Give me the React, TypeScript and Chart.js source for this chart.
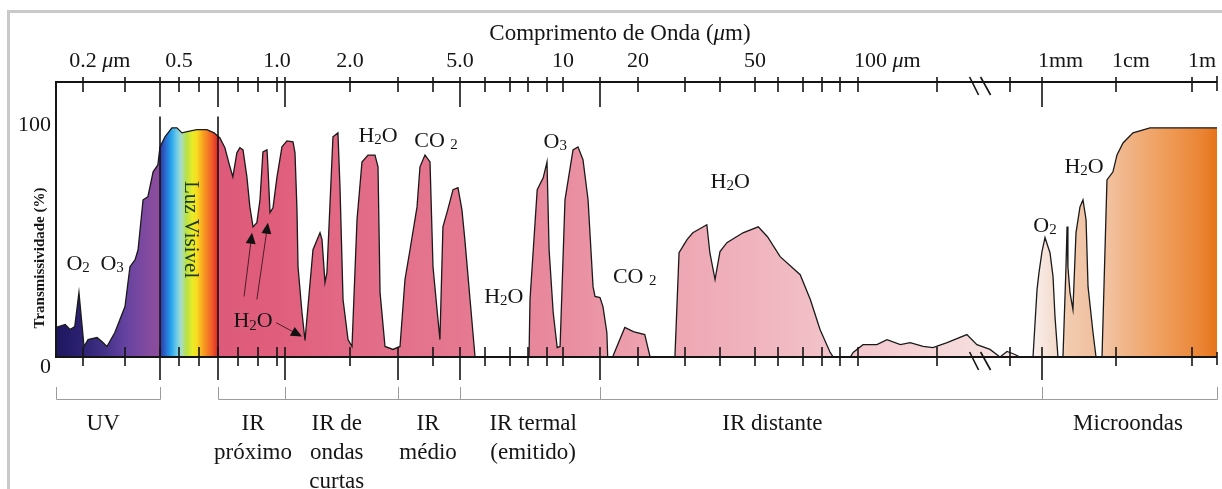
import React, { useEffect, useRef } from 'react';
import { Chart, registerables, LinearScale } from 'chart.js';

// ---- The figure's own (irregular, hand-drawn) wavelength ruler: wavelength (µm) -> ruler units
const RULER_UM = [0.155, 0.2, 0.3, 0.4, 0.5, 0.6, 0.7, 0.8, 0.9, 1.0, 1.1, 2, 3, 4, 5, 6, 7, 8, 9, 10, 15, 20, 30, 40, 50, 60, 70, 80, 90, 100, 200, 500, 1000, 1e4, 1e6, 4.54e6];
const RULER_POS = [0, 27, 69, 104, 123, 143, 162, 182, 202, 221, 229, 294, 342, 377, 404, 429, 454, 472, 491, 507, 544, 582, 629, 664, 699, 722, 747, 766, 784, 802, 881, 954, 986, 1060, 1136, 1161];

// ---- Atmospheric transmission curve
const WAVELENGTH_UM = [
  0.155, 0.169, 0.177, 0.185, 0.1925, 0.202, 0.21, 0.229, 0.24, 0.252, 0.272, 0.3, 0.3125, 0.326, 0.334, 0.348, 0.362, 0.378, 0.393,
  0.4, 0.424, 0.46, 0.488, 0.514, 0.538, 0.589, 0.64, 0.678,
  0.709, 0.733, 0.758, 0.773, 0.794, 0.809, 0.824, 0.843, 0.858, 0.874, 0.894, 0.91, 0.925, 0.946, 0.951, 0.962, 0.978, 1.0,
  1.061, 1.12, 1.184, 1.206, 1.228, 1.24, 1.286, 1.322, 1.423, 1.518, 1.546, 1.589, 1.618, 1.694, 1.71, 1.79, 1.824, 1.876, 1.964,
  2.034, 2.122, 2.213, 2.328, 2.47, 2.534, 2.578, 2.688, 2.876, 3.05, 3.177, 3.311, 3.508, 3.594, 3.745, 3.903, 4.0, 4.135, 4.236,
  4.342, 4.52, 4.72, 4.917, 5.07, 5.18, 5.38, 5.58,
  8.05, 8.1, 8.47, 8.79, 9.0, 9.125, 9.375, 9.625, 9.81, 10.22, 11.16, 11.78, 12.45, 13.16, 13.9, 14.2, 15.0, 15.34, 15.8, 15.9,
  16.5, 18.1, 19.3, 21.2, 22.2, 27.5, 28.5, 30.5, 32.0, 35.9, 36.8, 38.4, 40, 41.8, 46.3, 51.3, 55.2, 60.8, 68.8, 73.7, 78.9, 84.4, 86.1,
  95.6, 97.2, 104.5, 118, 129, 145, 158, 177, 193, 227, 291, 330, 389, 441, 482, 557, 621,
  823, 898, 937, 1000, 1098, 1205, 1283, 1409, 1498, 1644, 1920, 2110, 2180, 2240, 2390, 2620, 2880, 3260, 3580, 3940, 4190, 4890, 5370,
  6470, 7550, 9100, 10620, 15300, 28000, 78400, 4540000,
];
const TRANSMISSION_PCT = [
  12.9, 14.2, 12.0, 13.3, 28.1, 4.6, 7.6, 8.5, 6.8, 4.6, 10.7, 22.0, 39.4, 42.5, 46.8, 68.6, 69.9, 80.8, 83.8,
  91.7, 96.1, 100, 100, 97.8, 98.3, 99.2, 99.2, 97.8,
  95.6, 91.3, 83.0, 78.6, 89.1, 91.3, 90.4, 78.6, 65.5, 56.8, 58.6, 68.6, 89.5, 90.4, 83.0, 63.0, 65.1, 78.6,
  91.7, 94.3, 93.9, 89.1, 64.3, 39.4, 19.4, 7.2, 46.8, 54.2, 51.2, 32.5, 36.8, 86.1, 96.1, 97.8, 74.2, 25.1, 7.6,
  4.6, 59.9, 85.1, 88.1, 88.1, 83.0, 28.1, 4.6, 3.3, 4.6, 33.8, 46.8, 65.5, 83.0, 88.1, 85.1, 39.4, 20.7, 7.6,
  56.8, 64.3, 73.0, 73.9, 64.3, 51.2, 25.1, 0,
  0, 25.1, 73.0, 78.2, 85.1, 46.8, 19.4, 4.1, 4.6, 68.6, 90.4, 91.7, 86.1, 68.6, 30.7, 26.4, 25.9, 22.0, 10.7, 0,
  0, 12.9, 11.1, 9.8, 0, 0, 45.5, 51.2, 54.2, 57.7, 45.5, 33.8, 46.0, 49.9, 54.2, 56.8, 52.5, 43.8, 35.9, 25.1, 12.0, 2.0, 0,
  0, 2.0, 5.4, 5.4, 7.6, 5.4, 6.3, 4.6, 4.1, 6.3, 9.8, 5.4, 3.3, 0, 2.4, 1.1, 0,
  0, 29.4, 36.8, 46.0, 52.1, 48.1, 45.5, 35.1, 17.6, 0, 0, 39.4, 56.9, 39.4, 28.1, 20.7, 54.2, 65.5, 68.6, 59.9, 30.7, 10.7, 0,
  0, 77.3, 80.8, 88.2, 93.4, 97.8, 100, 100,
];

// ---- Axis ticks and labels
const TICKS_UM = [0.2, 0.3, 0.4, 0.5, 0.6, 0.7, 0.8, 0.9, 1.0, 1.1, 2, 3, 4, 5, 6, 7, 8, 9, 10, 15, 20, 30, 40, 50, 60, 70, 80, 90, 100, 200, 500, 1000, 1e4, 1e6];
const LONG_TICKS_TOP_UM = [0.4, 0.7, 1.1, 5, 15, 1000];
const LONG_TICKS_BOTTOM_UM = [0.4, 0.7, 1.1, 3, 5, 15, 1000];
const TICK_LABEL_UM = [0.2, 0.5, 1.0, 2, 5, 10, 20, 50, 100, 1000, 1e4, 1e6];
const TICK_LABEL_TEXT = ['0.2 μm', '0.5', '1.0', '2.0', '5.0', '10', '20', '50', '100 μm', '1mm', '1cm', '1m'];
const TICK_LABEL_ANCHOR = ['number', 'center', 'center', 'center', 'center', 'center', 'center', 'center', 'left', 'left', 'left', 'left'];
const Y_LABEL_PCT = [100, 0];
const Y_LABEL_TEXT = ['100', '0'];
const AXIS_BREAK_UM = 350;
const VISIBLE_BOUNDS_UM = [0.4, 0.7];

// ---- Spectral regions (bottom)
const BAND_NAMES = ['UV', 'IR\npróximo', 'IR de\nondas\ncurtas', 'IR\nmédio', 'IR termal\n(emitido)', 'IR distante', 'Microondas'];
const BAND_LABEL_UM = [0.243, 0.874, 1.77, 3.84, 8.26, 57.4, 20700];
const BRACKET_GROUPS_UM = [[0.155, 0.4], [0.7, 1.1, 3, 5, 15, 1000, 4.54e6]];

// ---- Absorber annotations
const GAS_TEXT = ['O₂', 'O₃', 'H₂O', 'H₂O', 'CO ₂', 'H₂O', 'O₃', 'CO ₂', 'H₂O', 'O₂', 'H₂O'];
const GAS_UM = [0.191, 0.265, 0.874, 2.534, 4.1, 6.74, 9.5, 19.5, 42.7, 1098, 3700];
const GAS_PCT = [38.1, 38.1, 12.9, 93.9, 91.7, 23.7, 91.3, 32.5, 73.9, 54.7, 80.4];
const ARROW_FROM_UM = [0.829, 0.894, 0.995];
const ARROW_FROM_PCT = [26.4, 25.1, 15.0];
const ARROW_TO_UM = [0.869, 0.951, 1.286];
const ARROW_TO_PCT = [54.2, 58.6, 8.9];
const VISIBLE_LABEL = 'Luz Visivel';
const VISIBLE_LABEL_UM = 0.553;
const VISIBLE_LABEL_PCT = 55.6;

// ---- Fill colour ramp along wavelength
const FILL_STOP_UM = [0.155, 0.2, 0.25, 0.3, 0.36, 0.398, 0.401, 0.414, 0.434, 0.455, 0.488, 0.51, 0.535, 0.565, 0.589, 0.62, 0.665, 0.697, 0.701, 0.705, 1.0, 2.0, 5, 10, 20, 50, 100, 300, 900, 1650, 2200, 5000, 7000, 28000, 144000, 1.8e6, 4.54e6];
const FILL_STOP_COLOR = ['#1e1660', '#2c2272', '#45338a', '#6442a0', '#824ba0', '#8e4c9c', '#2c3aa0', '#3050b8', '#2878d8', '#24a4ec', '#70cce8', '#a8dcc8', '#b8e048', '#e8ec28', '#f8dc20', '#f8a020', '#f06028', '#e02828', '#e02a3a', '#de5a7a', '#e05e7c', '#e26a86', '#e57890', '#e98ca0', '#eda0ae', '#f0b4be', '#f4c8ce', '#f6dcdc', '#f8ece8', '#f4d8c8', '#f2ccb0', '#f0c0a0', '#f2c4a4', '#f0b080', '#f0a060', '#ea8434', '#e67418'];

const FONT = '"Liberation Serif", "Times New Roman", serif';

function rulerFrac(v: number): number {
  const n = RULER_UM.length;
  const total = RULER_POS[n - 1];
  if (!(v > 0)) return -0.05;
  let i = 0;
  if (v >= RULER_UM[n - 1]) i = n - 2;
  else if (v > RULER_UM[0]) { while (i < n - 2 && v > RULER_UM[i + 1]) i++; }
  const f = Math.log(v / RULER_UM[i]) / Math.log(RULER_UM[i + 1] / RULER_UM[i]);
  return (RULER_POS[i] + f * (RULER_POS[i + 1] - RULER_POS[i])) / total;
}
function rulerValue(frac: number): number {
  const n = RULER_UM.length;
  const p = frac * RULER_POS[n - 1];
  let i = 0;
  while (i < n - 2 && p > RULER_POS[i + 1]) i++;
  const f = (p - RULER_POS[i]) / (RULER_POS[i + 1] - RULER_POS[i]);
  return RULER_UM[i] * Math.pow(RULER_UM[i + 1] / RULER_UM[i], f);
}

class RulerScale extends LinearScale {
  static id = 'ruler';
  static defaults = (LinearScale as any).defaults;
  getPixelForValue(value: number) { return this.left + rulerFrac(value) * this.width; }
  getValueForPixel(pixel: number) { return rulerValue((pixel - this.left) / this.width); }
}
Chart.register(...registerables, RulerScale as any);

function drawRich(ctx: CanvasRenderingContext2D, text: string, x: number, y: number, size: number, align: string, color = '#151515') {
  const segs: { t: string; font: string; dy: number }[] = [];
  for (const ch of text) {
    let font = `${size}px ${FONT}`;
    let dy = 0;
    let t = ch;
    if (ch === '₂' || ch === '₃') { t = ch === '₂' ? '2' : '3'; font = `${Math.round(size * 0.66)}px ${FONT}`; dy = size * 0.1; }
    else if (ch === 'μ') { font = `italic ${size}px ${FONT}`; }
    const last = segs[segs.length - 1];
    if (last && last.font === font && last.dy === dy) last.t += t; else segs.push({ t, font, dy });
  }
  let w = 0;
  const ws = segs.map((s) => { ctx.font = s.font; const m = ctx.measureText(s.t).width; w += m; return m; });
  let cx = align === 'left' ? x : align === 'right' ? x - w : x - w / 2;
  ctx.fillStyle = color;
  ctx.textAlign = 'left';
  ctx.textBaseline = 'alphabetic';
  segs.forEach((s, i) => { ctx.font = s.font; ctx.fillText(s.t, cx, y + s.dy); cx += ws[i]; });
  return w;
}

function seg(ctx: CanvasRenderingContext2D, x1: number, y1: number, x2: number, y2: number) {
  ctx.beginPath(); ctx.moveTo(x1, y1); ctx.lineTo(x2, y2); ctx.stroke();
}

const decorPlugin = {
  id: 'decor',
  beforeDraw(chart: any) {
    const ctx = chart.ctx as CanvasRenderingContext2D;
    ctx.save();
    ctx.fillStyle = '#ffffff';
    ctx.fillRect(0, 0, chart.width, chart.height);
    ctx.fillStyle = '#c9c9c9';
    ctx.fillRect(7, 10, chart.width - 7, 3);
    ctx.fillRect(7, 10, 3, chart.height - 10);
    ctx.restore();
  },
  afterDatasetsDraw(chart: any) {
    const ctx = chart.ctx as CanvasRenderingContext2D;
    const a = chart.chartArea;
    const xs = chart.scales.x;
    const ys = chart.scales.y;
    const top = a.top;
    const bot = a.bottom;
    ctx.save();
    ctx.strokeStyle = '#141414';
    ctx.lineCap = 'butt';

    // visible band boundaries
    ctx.lineWidth = 1.6;
    VISIBLE_BOUNDS_UM.forEach((v) => { const px = xs.getPixelForValue(v); seg(ctx, px, ys.getPixelForValue(105), px, bot); });

    // axes
    ctx.lineWidth = 2;
    seg(ctx, a.left, top, a.right, top);
    seg(ctx, a.left, bot, a.right, bot);
    seg(ctx, a.left, top - 1, a.left, bot + 1);

    // ticks
    ctx.lineWidth = 1.6;
    xs.ticks.forEach((t: any) => {
      const px = xs.getPixelForValue(t.value);
      seg(ctx, px, top - 5, px, top + (LONG_TICKS_TOP_UM.includes(t.value) ? 25 : 10));
      seg(ctx, px, bot - 10, px, bot + (LONG_TICKS_BOTTOM_UM.includes(t.value) ? 23 : 9));
    });
    seg(ctx, a.right, top - 6, a.right, top + 9);
    seg(ctx, a.right, bot - 5, a.right, bot + 8);

    // axis breaks
    const bx = xs.getPixelForValue(AXIS_BREAK_UM);
    [top, bot].forEach((yy) => {
      seg(ctx, bx - 12, yy - 5, bx - 3, yy + 13);
      seg(ctx, bx - 1, yy - 5, bx + 9, yy + 13);
    });

    // top tick labels and title
    TICK_LABEL_UM.forEach((v, i) => {
      const px = xs.getPixelForValue(v);
      const txt = TICK_LABEL_TEXT[i];
      const anchor = TICK_LABEL_ANCHOR[i];
      if (anchor === 'number') {
        const num = txt.split(' ')[0];
        ctx.font = `22px ${FONT}`;
        const nw = ctx.measureText(num).width;
        drawRich(ctx, txt, px - nw / 2, top - 15, 22, 'left');
      } else if (anchor === 'left') {
        drawRich(ctx, txt, px - 4, top - 15, 22, 'left');
      } else {
        drawRich(ctx, txt, px, top - 15, 22, 'center');
      }
    });
    drawRich(ctx, 'Comprimento de Onda (μm)', 620, top - 42, 23, 'center');

    // y labels
    Y_LABEL_PCT.forEach((p, i) => {
      const py = ys.getPixelForValue(p);
      drawRich(ctx, Y_LABEL_TEXT[i], a.left - 5, py + (p === 0 ? 16 : 3), 22, 'right');
    });
    ctx.save();
    ctx.translate(a.left - 16, ys.getPixelForValue(43.2));
    ctx.rotate(-Math.PI / 2);
    ctx.font = `bold 15px ${FONT}`;
    ctx.fillStyle = '#151515';
    ctx.textAlign = 'center';
    ctx.textBaseline = 'middle';
    ctx.fillText('Transmissividade (%)', 0, 0);
    ctx.restore();

    // visible light label
    ctx.save();
    ctx.translate(xs.getPixelForValue(VISIBLE_LABEL_UM), ys.getPixelForValue(VISIBLE_LABEL_PCT));
    ctx.rotate(Math.PI / 2);
    ctx.font = `21px ${FONT}`;
    ctx.fillStyle = '#1c3a1c';
    ctx.textAlign = 'center';
    ctx.textBaseline = 'middle';
    ctx.fillText(VISIBLE_LABEL, 0, 0);
    ctx.restore();

    // gas labels
    GAS_TEXT.forEach((t, i) => {
      drawRich(ctx, t, xs.getPixelForValue(GAS_UM[i]), ys.getPixelForValue(GAS_PCT[i]), 22, 'center');
    });

    // arrows
    ARROW_FROM_UM.forEach((v, i) => {
      const x1 = xs.getPixelForValue(v);
      const y1 = ys.getPixelForValue(ARROW_FROM_PCT[i]);
      const x2 = xs.getPixelForValue(ARROW_TO_UM[i]);
      const y2 = ys.getPixelForValue(ARROW_TO_PCT[i]);
      const ang = Math.atan2(y2 - y1, x2 - x1);
      const c = Math.cos(ang);
      const s = Math.sin(ang);
      ctx.strokeStyle = '#4a1e28';
      ctx.lineWidth = 1;
      seg(ctx, x1, y1, x2 - c * 8, y2 - s * 8);
      const L = 11;
      const W = 5;
      ctx.fillStyle = '#111';
      ctx.beginPath();
      ctx.moveTo(x2, y2);
      ctx.lineTo(x2 - L * c + W * s, y2 - L * s - W * c);
      ctx.lineTo(x2 - L * c - W * s, y2 - L * s + W * c);
      ctx.closePath();
      ctx.fill();
    });

    // bottom brackets and spectral region names
    ctx.strokeStyle = '#9c9c9c';
    ctx.lineWidth = 1;
    const by = bot + 42.5;
    BRACKET_GROUPS_UM.forEach((g) => {
      const px = g.map((v) => Math.round(xs.getPixelForValue(v)) + 0.5);
      seg(ctx, px[0], by, px[px.length - 1], by);
      px.forEach((p) => seg(ctx, p, bot + 30, p, by));
    });
    BAND_NAMES.forEach((name, i) => {
      const px = xs.getPixelForValue(BAND_LABEL_UM[i]);
      name.split('\n').forEach((line, k) => {
        drawRich(ctx, line, px, bot + 73 + k * 29, 23, 'center');
      });
    });
    ctx.restore();
  },
};

export default function App() {
  const ref = useRef<HTMLCanvasElement>(null);
  useEffect(() => {
    if (!ref.current) return;
    const points = WAVELENGTH_UM.map((x, i) => ({ x, y: TRANSMISSION_PCT[i] }));
    const chart = new Chart(ref.current, {
      type: 'line',
      data: {
        datasets: [
          {
            data: points,
            borderColor: '#1a1a1a',
            borderWidth: 1.3,
            pointRadius: 0,
            tension: 0,
            fill: 'origin',
            backgroundColor: (c: any) => {
              const chart = c.chart;
              const area = chart.chartArea;
              if (!area) return '#e05e7c';
              const xs = chart.scales.x;
              const g = chart.ctx.createLinearGradient(area.left, 0, area.right, 0);
              FILL_STOP_UM.forEach((v, i) => {
                const f = Math.min(1, Math.max(0, (xs.getPixelForValue(v) - area.left) / area.width));
                g.addColorStop(f, FILL_STOP_COLOR[i]);
              });
              return g;
            },
          } as any,
        ],
      },
      options: {
        responsive: false,
        animation: false,
        events: [],
        layout: { padding: { left: 56, right: 5, top: 82, bottom: 132 } },
        plugins: { legend: { display: false }, title: { display: false }, tooltip: { enabled: false } },
        scales: {
          x: {
            type: 'ruler' as any,
            display: false,
            min: 0.155,
            max: 4.54e6,
            ticks: { autoSkip: false },
            afterBuildTicks: (scale: any) => { scale.ticks = TICKS_UM.map((value) => ({ value })); },
          } as any,
          y: { type: 'linear', display: false, min: 0, max: 120 },
        },
      },
      plugins: [decorPlugin],
    });
    return () => chart.destroy();
  }, []);
  return (
    <div style={{ position: 'absolute', left: 0, top: 0, width: 1222, height: 489, background: '#fff' }}>
      <canvas ref={ref} width={1222} height={489} style={{ display: 'block', width: 1222, height: 489 }} />
    </div>
  );
}
